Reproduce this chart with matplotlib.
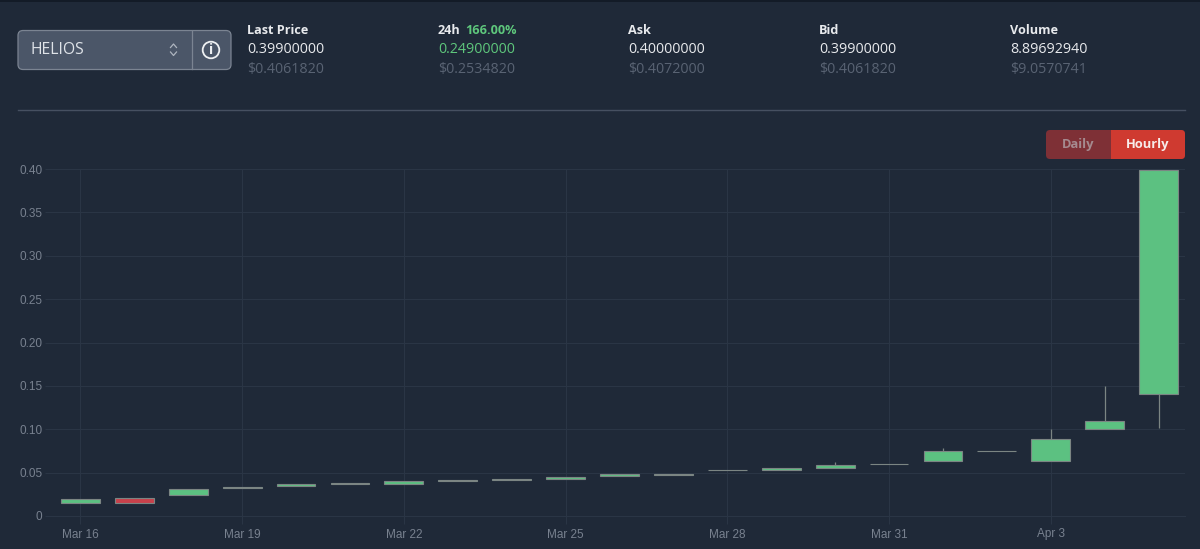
import matplotlib
matplotlib.use("Agg")
import matplotlib.pyplot as plt
from matplotlib.patches import FancyBboxPatch, Rectangle, Circle

days = list(range(21))
opens = [0.0146,0.0204,0.0245,0.0325,0.0345,0.0365,0.0368,0.0408,0.0410,0.0428,0.0460,0.0478,0.0525,0.0530,0.0552,0.0600,0.0635,0.0750,0.0635,0.1000,0.1410]
closes = [0.0198,0.0155,0.0308,0.0330,0.0365,0.0375,0.0400,0.0412,0.0422,0.0448,0.0488,0.0482,0.0535,0.0550,0.0585,0.0605,0.0745,0.0755,0.0890,0.1095,0.3990]
highs = [0.0198,0.0204,0.0308,0.0335,0.0365,0.0375,0.0400,0.0412,0.0422,0.0448,0.0488,0.0482,0.0535,0.0550,0.0620,0.0605,0.0780,0.0755,0.1005,0.1500,0.3990]
lows = [0.0146,0.0155,0.0245,0.0325,0.0345,0.0365,0.0368,0.0408,0.0410,0.0428,0.0460,0.0478,0.0525,0.0530,0.0552,0.0600,0.0635,0.0750,0.0635,0.1000,0.1010]
tick_days = [0,3,6,9,12,15,18]
tick_labels = ["Mar 16","Mar 19","Mar 22","Mar 25","Mar 28","Mar 31","Apr 3"]
y_ticks = [0,0.05,0.10,0.15,0.20,0.25,0.30,0.35,0.40]
y_labels = ["0","0.05","0.10","0.15","0.20","0.25","0.30","0.35","0.40"]
stat_titles = ["Last Price","24h","Ask","Bid","Volume"]
stat_values = ["0.39900000","0.24900000","0.40000000","0.39900000","8.89692940"]
stat_usd = ["$0.4061820","$0.2534820","$0.4072000","$0.4061820","$9.0570741"]
stat_x = [247,438,628.5,819,1010]

BG = "#1f2938"
GRID = "#2a3545"
GREEN = "#5cc181"
RED = "#c8414b"
EDGE = "#7b8583"
UP = "#5ec77c"
FONT = "Open Sans"
W, H = 1200, 549

fig = plt.figure(figsize=(W/100, H/100), dpi=100, facecolor=BG)

ui = fig.add_axes([0, 0, 1, 1], zorder=3)
ui.set_xlim(0, W); ui.set_ylim(H, 0); ui.axis("off")

L, R, T, B = 47, 1185, 169, 516
ax = fig.add_axes([L/W, 1-B/H, (R-L)/W, (B-T)/H], facecolor=BG, zorder=2)
ax.set_xlim(-0.62, 20.49)
ax.set_ylim(0, 0.40)
ax.set_axisbelow(True)
ax.grid(True, color=GRID, lw=0.8)
for s in ax.spines.values():
    s.set_visible(False)
ax.spines["bottom"].set_visible(True); ax.spines["bottom"].set_color(GRID); ax.spines["bottom"].set_linewidth(0.8)
ax.set_xticks(tick_days, tick_labels)
ax.set_yticks(y_ticks, y_labels)
ax.tick_params(axis="x", length=5.5, width=0.8, color=GRID, labelcolor="#78818f", labelsize=8.5, pad=3.5)
ax.tick_params(axis="y", length=1.5, width=0.8, color=GRID, labelcolor="#78818f", labelsize=8.5, pad=2)
for lab in ax.get_xticklabels() + ax.get_yticklabels():
    lab.set_family("Liberation Sans")

ax.vlines(days, lows, highs, color=EDGE, lw=0.9, zorder=3, clip_on=False)
for d, o, c in zip(days, opens, closes):
    ax.bar(d, abs(c-o), bottom=min(o, c), width=0.72, color=GREEN if c >= o else RED,
           edgecolor=EDGE, linewidth=0.8, zorder=4, clip_on=False)

ui.add_patch(Rectangle((0, 0), W, 2, color="#131b27", lw=0))

# selector
ui.add_patch(FancyBboxPatch((18, 30.5), 213, 39, boxstyle="round,pad=0,rounding_size=5",
                            fc="#4b5668", ec="#7b8492", lw=0.9))
ui.plot([191.5, 191.5], [31, 69], color="#7b8492", lw=0.9)
ui.text(30, 50, "HELIOS", color="#dfe3e8", fontsize=11.3, family=FONT, va="center", ha="left")
ui.plot([170.5, 173.5, 176.5], [47.5, 44, 47.5], color="#aeb5bf", lw=0.9)
ui.plot([170.5, 173.5, 176.5], [52, 55.5, 52], color="#aeb5bf", lw=0.9)
ui.add_patch(Circle((211, 50), 8.3, fc="none", ec="#eef0f2", lw=1.3))
ui.text(211, 50, "i", color="#eef0f2", fontsize=10, family=FONT, weight="bold", ha="center", va="center")

# stats
for title, val, usd, x in zip(stat_titles, stat_values, stat_usd, stat_x):
    ui.text(x, 30.5, title, color="#e8eaed", fontsize=9.1, family=FONT, weight="bold", va="center")
    ui.text(x, 49.5, val, color=UP if title == "24h" else "#e8eaed", fontsize=10.3, family=FONT, va="center")
    ui.text(x, 69, usd, color="#596373", fontsize=10.3, family=FONT, va="center")
ui.text(465.5, 30.5, "166.00%", color=UP, fontsize=9.1, family=FONT, weight="bold", va="center")

ui.plot([18, 1185], [109.5, 109.5], color="#465061", lw=1)

# toggle
ui.add_patch(FancyBboxPatch((1046, 130), 139, 29, boxstyle="round,pad=0,rounding_size=4",
                            fc="#7e3036", ec="none"))
hourly = FancyBboxPatch((1046, 130), 139, 29, boxstyle="round,pad=0,rounding_size=4",
                        fc="#cf3a30", ec="none")
ui.add_patch(hourly)
hourly.set_clip_path(Rectangle((1111, 125), 80, 40, transform=ui.transData))
ui.text(1078, 144.5, "Daily", color="#a58a8f", fontsize=9.3, family=FONT, weight="bold", ha="center", va="center")
ui.text(1147.5, 144.5, "Hourly", color="#f7ecea", fontsize=9.3, family=FONT, weight="bold", ha="center", va="center")

fig.savefig("out.png", dpi=100, facecolor=BG)
